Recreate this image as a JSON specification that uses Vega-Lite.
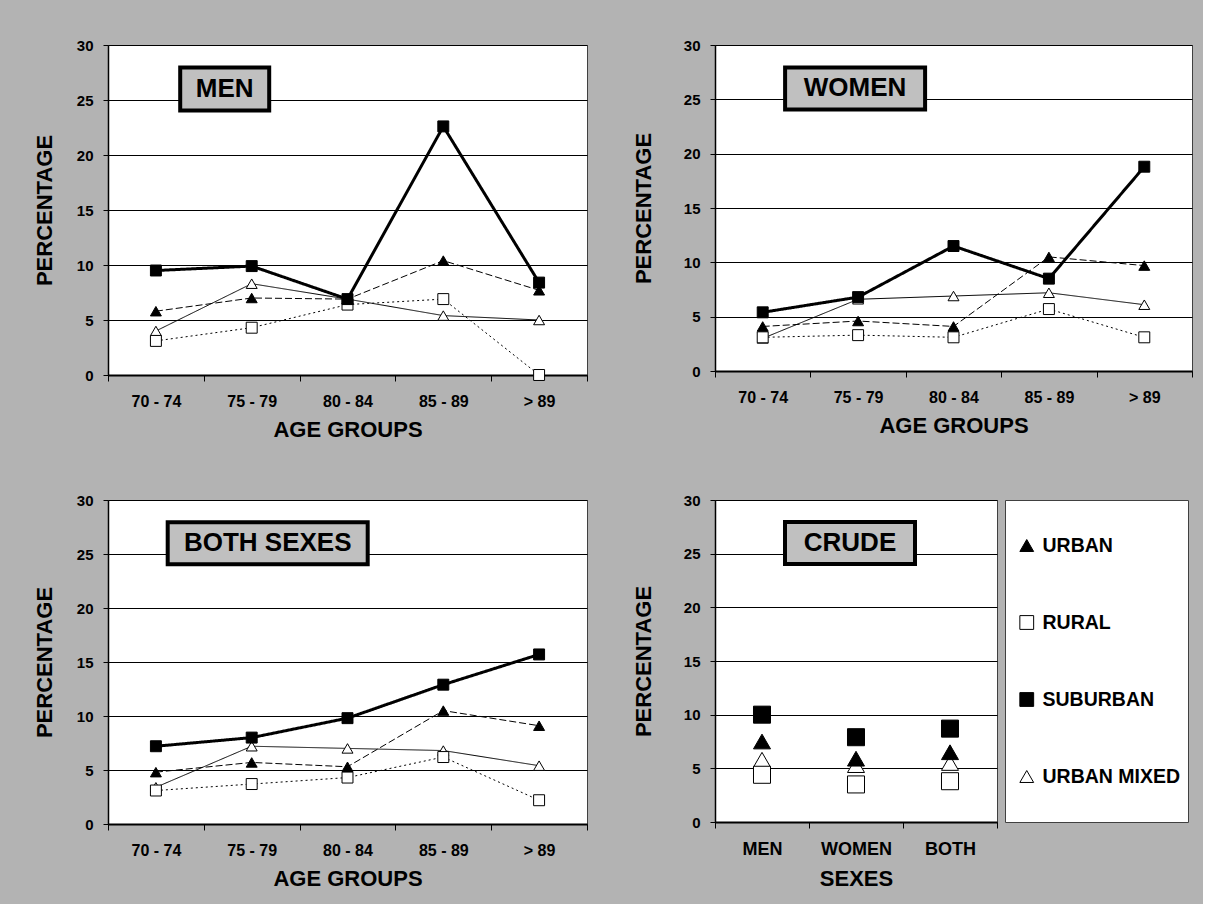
{
  "$schema": "https://vega.github.io/schema/vega-lite/v6.json",
  "background": "#b3b3b3",
  "padding": {"left": 32, "top": 37, "right": 10, "bottom": 14},
  "config": {
    "font": "Liberation Sans",
    "view": {"stroke": "#404040", "strokeWidth": 1, "fill": "white"},
    "axis": {"labelFont": "Liberation Sans", "titleFont": "Liberation Sans", "labelFontWeight": "bold", "titleFontWeight": "bold", "labelColor": "black", "titleColor": "black", "domainColor": "black", "tickColor": "black", "gridColor": "black", "gridOpacity": 1, "titleFontSize": 22},
    "axisY": {"grid": true, "gridWidth": 1, "tickSize": 5, "labelPadding": 10, "labelFontSize": 15, "domainWidth": 1.5, "titlePadding": 20},
    "axisX": {"grid": false, "tickBand": "extent", "tickSize": 6, "labelAngle": 0, "labelFontSize": 16, "labelPadding": 12, "titlePadding": 10, "domainWidth": 2}
  },
  "datasets": {
    "ages": [
      {"panel": "MEN", "series": "URBAN MIXED", "age": "70 - 74", "value": 4.0},
      {"panel": "MEN", "series": "URBAN MIXED", "age": "75 - 79", "value": 8.3},
      {"panel": "MEN", "series": "URBAN MIXED", "age": "80 - 84", "value": 6.9},
      {"panel": "MEN", "series": "URBAN MIXED", "age": "85 - 89", "value": 5.4},
      {"panel": "MEN", "series": "URBAN MIXED", "age": "> 89", "value": 5.0},
      {"panel": "MEN", "series": "RURAL", "age": "70 - 74", "value": 3.1},
      {"panel": "MEN", "series": "RURAL", "age": "75 - 79", "value": 4.3},
      {"panel": "MEN", "series": "RURAL", "age": "80 - 84", "value": 6.4},
      {"panel": "MEN", "series": "RURAL", "age": "85 - 89", "value": 6.9},
      {"panel": "MEN", "series": "RURAL", "age": "> 89", "value": 0.0},
      {"panel": "MEN", "series": "URBAN", "age": "70 - 74", "value": 5.8},
      {"panel": "MEN", "series": "URBAN", "age": "75 - 79", "value": 7.0},
      {"panel": "MEN", "series": "URBAN", "age": "80 - 84", "value": 6.9},
      {"panel": "MEN", "series": "URBAN", "age": "85 - 89", "value": 10.4},
      {"panel": "MEN", "series": "URBAN", "age": "> 89", "value": 7.7},
      {"panel": "MEN", "series": "SUBURBAN", "age": "70 - 74", "value": 9.5},
      {"panel": "MEN", "series": "SUBURBAN", "age": "75 - 79", "value": 9.9},
      {"panel": "MEN", "series": "SUBURBAN", "age": "80 - 84", "value": 6.9},
      {"panel": "MEN", "series": "SUBURBAN", "age": "85 - 89", "value": 22.6},
      {"panel": "MEN", "series": "SUBURBAN", "age": "> 89", "value": 8.4},
      {"panel": "WOMEN", "series": "URBAN MIXED", "age": "70 - 74", "value": 3.0},
      {"panel": "WOMEN", "series": "URBAN MIXED", "age": "75 - 79", "value": 6.6},
      {"panel": "WOMEN", "series": "URBAN MIXED", "age": "80 - 84", "value": 6.9},
      {"panel": "WOMEN", "series": "URBAN MIXED", "age": "85 - 89", "value": 7.2},
      {"panel": "WOMEN", "series": "URBAN MIXED", "age": "> 89", "value": 6.1},
      {"panel": "WOMEN", "series": "RURAL", "age": "70 - 74", "value": 3.1},
      {"panel": "WOMEN", "series": "RURAL", "age": "75 - 79", "value": 3.3},
      {"panel": "WOMEN", "series": "RURAL", "age": "80 - 84", "value": 3.1},
      {"panel": "WOMEN", "series": "RURAL", "age": "85 - 89", "value": 5.7},
      {"panel": "WOMEN", "series": "RURAL", "age": "> 89", "value": 3.1},
      {"panel": "WOMEN", "series": "URBAN", "age": "70 - 74", "value": 4.1},
      {"panel": "WOMEN", "series": "URBAN", "age": "75 - 79", "value": 4.6},
      {"panel": "WOMEN", "series": "URBAN", "age": "80 - 84", "value": 4.1},
      {"panel": "WOMEN", "series": "URBAN", "age": "85 - 89", "value": 10.5},
      {"panel": "WOMEN", "series": "URBAN", "age": "> 89", "value": 9.7},
      {"panel": "WOMEN", "series": "SUBURBAN", "age": "70 - 74", "value": 5.4},
      {"panel": "WOMEN", "series": "SUBURBAN", "age": "75 - 79", "value": 6.8},
      {"panel": "WOMEN", "series": "SUBURBAN", "age": "80 - 84", "value": 11.5},
      {"panel": "WOMEN", "series": "SUBURBAN", "age": "85 - 89", "value": 8.5},
      {"panel": "WOMEN", "series": "SUBURBAN", "age": "> 89", "value": 18.8},
      {"panel": "BOTH", "series": "URBAN MIXED", "age": "70 - 74", "value": 3.4},
      {"panel": "BOTH", "series": "URBAN MIXED", "age": "75 - 79", "value": 7.2},
      {"panel": "BOTH", "series": "URBAN MIXED", "age": "80 - 84", "value": 7.0},
      {"panel": "BOTH", "series": "URBAN MIXED", "age": "85 - 89", "value": 6.8},
      {"panel": "BOTH", "series": "URBAN MIXED", "age": "> 89", "value": 5.4},
      {"panel": "BOTH", "series": "RURAL", "age": "70 - 74", "value": 3.1},
      {"panel": "BOTH", "series": "RURAL", "age": "75 - 79", "value": 3.7},
      {"panel": "BOTH", "series": "RURAL", "age": "80 - 84", "value": 4.3},
      {"panel": "BOTH", "series": "RURAL", "age": "85 - 89", "value": 6.2},
      {"panel": "BOTH", "series": "RURAL", "age": "> 89", "value": 2.2},
      {"panel": "BOTH", "series": "URBAN", "age": "70 - 74", "value": 4.8},
      {"panel": "BOTH", "series": "URBAN", "age": "75 - 79", "value": 5.7},
      {"panel": "BOTH", "series": "URBAN", "age": "80 - 84", "value": 5.3},
      {"panel": "BOTH", "series": "URBAN", "age": "85 - 89", "value": 10.5},
      {"panel": "BOTH", "series": "URBAN", "age": "> 89", "value": 9.1},
      {"panel": "BOTH", "series": "SUBURBAN", "age": "70 - 74", "value": 7.2},
      {"panel": "BOTH", "series": "SUBURBAN", "age": "75 - 79", "value": 8.0},
      {"panel": "BOTH", "series": "SUBURBAN", "age": "80 - 84", "value": 9.8},
      {"panel": "BOTH", "series": "SUBURBAN", "age": "85 - 89", "value": 12.9},
      {"panel": "BOTH", "series": "SUBURBAN", "age": "> 89", "value": 15.7}
    ],
    "crude": [
      {"series": "URBAN MIXED", "sex": "MEN", "value": 5.8},
      {"series": "URBAN MIXED", "sex": "WOMEN", "value": 5.3},
      {"series": "URBAN MIXED", "sex": "BOTH", "value": 5.5},
      {"series": "RURAL", "sex": "MEN", "value": 4.4},
      {"series": "RURAL", "sex": "WOMEN", "value": 3.5},
      {"series": "RURAL", "sex": "BOTH", "value": 3.8},
      {"series": "URBAN", "sex": "MEN", "value": 7.5},
      {"series": "URBAN", "sex": "WOMEN", "value": 5.9},
      {"series": "URBAN", "sex": "BOTH", "value": 6.5},
      {"series": "SUBURBAN", "sex": "MEN", "value": 10.0},
      {"series": "SUBURBAN", "sex": "WOMEN", "value": 7.9},
      {"series": "SUBURBAN", "sex": "BOTH", "value": 8.7}
    ]
  },
  "resolve": {
    "scale": {"shape": "independent", "fill": "independent", "stroke": "independent", "strokeDash": "independent", "strokeWidth": "independent"},
    "legend": {"shape": "independent", "fill": "independent", "stroke": "independent", "strokeDash": "independent", "strokeWidth": "independent"}
  },
  "spacing": 51,
  "vconcat": [
    {
      "spacing": 43,
      "resolve": {
        "scale": {"shape": "independent", "fill": "independent", "stroke": "independent", "strokeDash": "independent", "strokeWidth": "independent"},
        "legend": {"shape": "independent", "fill": "independent", "stroke": "independent", "strokeDash": "independent", "strokeWidth": "independent"}
      },
      "hconcat": [
        {
          "width": 479, "height": 330,
          "layer": [
            {
              "data": {"name": "ages"},
              "transform": [{"filter": "datum.panel === 'MEN'"}],
              "mark": {"type": "line", "color": "black"},
              "encoding": {
                "x": {"field": "age", "type": "nominal", "sort": null, "scale": {"type": "band", "domain": ["70 - 74", "75 - 79", "80 - 84", "85 - 89", "> 89"], "paddingInner": 0, "paddingOuter": 0}, "axis": {"title": "AGE GROUPS"}},
                "y": {"field": "value", "type": "quantitative", "scale": {"domain": [0, 30], "nice": false}, "axis": {"title": "PERCENTAGE", "values": [0, 5, 10, 15, 20, 25, 30]}},
                "detail": {"field": "series"},
                "strokeDash": {"field": "series", "type": "nominal", "scale": {"domain": ["URBAN", "RURAL", "SUBURBAN", "URBAN MIXED"], "range": [[7, 3], [2, 3], [1, 0], [1, 0]]}, "legend": null},
                "strokeWidth": {"field": "series", "type": "nominal", "scale": {"type": "ordinal", "domain": ["URBAN", "RURAL", "SUBURBAN", "URBAN MIXED"], "range": [1, 1, 3, 1]}, "legend": null}
              }
            },
            {
              "data": {"name": "ages"},
              "transform": [{"filter": "datum.panel === 'MEN'"}],
              "mark": {"type": "point", "filled": true, "stroke": "black", "strokeWidth": 1, "size": 120, "opacity": 1},
              "encoding": {
                "x": {"field": "age", "type": "nominal", "sort": null},
                "y": {"field": "value", "type": "quantitative"},
                "shape": {"field": "series", "type": "nominal", "scale": {"domain": ["URBAN", "RURAL", "SUBURBAN", "URBAN MIXED"], "range": ["triangle-up", "square", "square", "triangle-up"]}, "legend": null},
                "fill": {"field": "series", "type": "nominal", "scale": {"domain": ["URBAN", "RURAL", "SUBURBAN", "URBAN MIXED"], "range": ["black", "white", "black", "white"]}, "legend": null}
              }
            },
            {
              "data": {"values": [{"label": "MEN"}]},
              "mark": {"type": "point", "shape": "M-1,-0.483H1V0.483H-1Z", "size": 7921, "filled": true, "fill": "#c0c0c0", "stroke": "black", "strokeWidth": 4, "opacity": 1, "xOffset": -27},
              "encoding": {"x": {"datum": "75 - 79", "type": "nominal"}, "y": {"datum": 26, "type": "quantitative"}}
            },
            {
              "data": {"values": [{"label": "MEN"}]},
              "mark": {"type": "text", "fontSize": 26, "fontWeight": "bold", "color": "black", "baseline": "middle", "align": "center", "xOffset": -27},
              "encoding": {"x": {"datum": "75 - 79", "type": "nominal"}, "y": {"datum": 26, "type": "quantitative"}, "text": {"field": "label"}}
            }
          ]
        },
        {
          "width": 477, "height": 326,
          "layer": [
            {
              "data": {"name": "ages"},
              "transform": [{"filter": "datum.panel === 'WOMEN'"}],
              "mark": {"type": "line", "color": "black"},
              "encoding": {
                "x": {"field": "age", "type": "nominal", "sort": null, "scale": {"type": "band", "domain": ["70 - 74", "75 - 79", "80 - 84", "85 - 89", "> 89"], "paddingInner": 0, "paddingOuter": 0}, "axis": {"title": "AGE GROUPS"}},
                "y": {"field": "value", "type": "quantitative", "scale": {"domain": [0, 30], "nice": false}, "axis": {"title": "PERCENTAGE", "values": [0, 5, 10, 15, 20, 25, 30], "titlePadding": 28}},
                "detail": {"field": "series"},
                "strokeDash": {"field": "series", "type": "nominal", "scale": {"domain": ["URBAN", "RURAL", "SUBURBAN", "URBAN MIXED"], "range": [[7, 3], [2, 3], [1, 0], [1, 0]]}, "legend": null},
                "strokeWidth": {"field": "series", "type": "nominal", "scale": {"type": "ordinal", "domain": ["URBAN", "RURAL", "SUBURBAN", "URBAN MIXED"], "range": [1, 1, 3, 1]}, "legend": null}
              }
            },
            {
              "data": {"name": "ages"},
              "transform": [{"filter": "datum.panel === 'WOMEN'"}],
              "mark": {"type": "point", "filled": true, "stroke": "black", "strokeWidth": 1, "size": 120, "opacity": 1},
              "encoding": {
                "x": {"field": "age", "type": "nominal", "sort": null},
                "y": {"field": "value", "type": "quantitative"},
                "shape": {"field": "series", "type": "nominal", "scale": {"domain": ["URBAN", "RURAL", "SUBURBAN", "URBAN MIXED"], "range": ["triangle-up", "square", "square", "triangle-up"]}, "legend": null},
                "fill": {"field": "series", "type": "nominal", "scale": {"domain": ["URBAN", "RURAL", "SUBURBAN", "URBAN MIXED"], "range": ["black", "white", "black", "white"]}, "legend": null}
              }
            },
            {
              "data": {"values": [{"label": "WOMEN"}]},
              "mark": {"type": "point", "shape": "M-1,-0.3H1V0.3H-1Z", "size": 19600, "filled": true, "fill": "#c0c0c0", "stroke": "black", "strokeWidth": 4, "opacity": 1, "xOffset": -3},
              "encoding": {"x": {"datum": "75 - 79", "type": "nominal"}, "y": {"datum": 26, "type": "quantitative"}}
            },
            {
              "data": {"values": [{"label": "WOMEN"}]},
              "mark": {"type": "text", "fontSize": 26, "fontWeight": "bold", "color": "black", "baseline": "middle", "align": "center", "xOffset": -3},
              "encoding": {"x": {"datum": "75 - 79", "type": "nominal"}, "y": {"datum": 26, "type": "quantitative"}, "text": {"field": "label"}}
            }
          ]
        }
      ]
    },
    {
      "spacing": 43,
      "resolve": {
        "scale": {"shape": "independent", "fill": "independent", "stroke": "independent", "strokeDash": "independent", "strokeWidth": "independent"},
        "legend": {"shape": "independent", "fill": "independent", "stroke": "independent", "strokeDash": "independent", "strokeWidth": "independent"}
      },
      "hconcat": [
        {
          "width": 479, "height": 324,
          "layer": [
            {
              "data": {"name": "ages"},
              "transform": [{"filter": "datum.panel === 'BOTH'"}],
              "mark": {"type": "line", "color": "black"},
              "encoding": {
                "x": {"field": "age", "type": "nominal", "sort": null, "scale": {"type": "band", "domain": ["70 - 74", "75 - 79", "80 - 84", "85 - 89", "> 89"], "paddingInner": 0, "paddingOuter": 0}, "axis": {"title": "AGE GROUPS"}},
                "y": {"field": "value", "type": "quantitative", "scale": {"domain": [0, 30], "nice": false}, "axis": {"title": "PERCENTAGE", "values": [0, 5, 10, 15, 20, 25, 30]}},
                "detail": {"field": "series"},
                "strokeDash": {"field": "series", "type": "nominal", "scale": {"domain": ["URBAN", "RURAL", "SUBURBAN", "URBAN MIXED"], "range": [[7, 3], [2, 3], [1, 0], [1, 0]]}, "legend": null},
                "strokeWidth": {"field": "series", "type": "nominal", "scale": {"type": "ordinal", "domain": ["URBAN", "RURAL", "SUBURBAN", "URBAN MIXED"], "range": [1, 1, 3, 1]}, "legend": null}
              }
            },
            {
              "data": {"name": "ages"},
              "transform": [{"filter": "datum.panel === 'BOTH'"}],
              "mark": {"type": "point", "filled": true, "stroke": "black", "strokeWidth": 1, "size": 120, "opacity": 1},
              "encoding": {
                "x": {"field": "age", "type": "nominal", "sort": null},
                "y": {"field": "value", "type": "quantitative"},
                "shape": {"field": "series", "type": "nominal", "scale": {"domain": ["URBAN", "RURAL", "SUBURBAN", "URBAN MIXED"], "range": ["triangle-up", "square", "square", "triangle-up"]}, "legend": null},
                "fill": {"field": "series", "type": "nominal", "scale": {"domain": ["URBAN", "RURAL", "SUBURBAN", "URBAN MIXED"], "range": ["black", "white", "black", "white"]}, "legend": null}
              }
            },
            {
              "data": {"values": [{"label": "BOTH SEXES"}]},
              "mark": {"type": "point", "shape": "M-1,-0.21H1V0.21H-1Z", "size": 40000, "filled": true, "fill": "#c0c0c0", "stroke": "black", "strokeWidth": 4, "opacity": 1, "xOffset": 16},
              "encoding": {"x": {"datum": "75 - 79", "type": "nominal"}, "y": {"datum": 26, "type": "quantitative"}}
            },
            {
              "data": {"values": [{"label": "BOTH SEXES"}]},
              "mark": {"type": "text", "fontSize": 26, "fontWeight": "bold", "color": "black", "baseline": "middle", "align": "center", "xOffset": 16},
              "encoding": {"x": {"datum": "75 - 79", "type": "nominal"}, "y": {"datum": 26, "type": "quantitative"}, "text": {"field": "label"}}
            }
          ]
        },
        {
          "width": 282, "height": 322,
          "layer": [
            {
              "data": {"name": "crude"},
              "mark": {"type": "point", "filled": true, "strokeWidth": 1, "size": 290, "opacity": 1},
              "encoding": {
                "x": {"field": "sex", "type": "nominal", "sort": null, "scale": {"type": "band", "domain": ["MEN", "WOMEN", "BOTH"], "paddingInner": 0, "paddingOuter": 0}, "axis": {"title": "SEXES", "labelFontSize": 18}},
                "y": {"field": "value", "type": "quantitative", "scale": {"domain": [0, 30], "nice": false}, "axis": {"title": "PERCENTAGE", "values": [0, 5, 10, 15, 20, 25, 30], "titlePadding": 28}},
                "shape": {"field": "series", "type": "nominal", "scale": {"domain": ["URBAN", "RURAL", "SUBURBAN", "URBAN MIXED"], "range": ["triangle-up", "square", "square", "triangle-up"]},
                  "legend": {"title": null, "orient": "right", "offset": 8, "padding": 7, "clipHeight": 77, "rowPadding": 0, "symbolOffset": 5, "labelOffset": 6, "labelFontSize": 19.5, "labelFont": "Liberation Sans", "labelFontWeight": "bold", "labelColor": "black", "labelLimit": 300, "symbolSize": 190, "symbolStrokeWidth": 1, "fillColor": "white", "strokeColor": "#404040", "cornerRadius": 0}},
                "fill": {"field": "series", "type": "nominal", "scale": {"domain": ["URBAN", "RURAL", "SUBURBAN", "URBAN MIXED"], "range": ["black", "white", "black", "white"]},
                  "legend": {"title": null, "orient": "right", "offset": 8, "padding": 7, "clipHeight": 77, "rowPadding": 0, "symbolOffset": 5, "labelOffset": 6, "labelFontSize": 19.5, "labelFont": "Liberation Sans", "labelFontWeight": "bold", "labelColor": "black", "labelLimit": 300, "symbolSize": 190, "symbolStrokeWidth": 1, "fillColor": "white", "strokeColor": "#404040", "cornerRadius": 0}},
                "stroke": {"field": "series", "type": "nominal", "scale": {"domain": ["URBAN", "RURAL", "SUBURBAN", "URBAN MIXED"], "range": ["black", "black", "black", "black"]},
                  "legend": {"title": null, "orient": "right", "offset": 8, "padding": 7, "clipHeight": 77, "rowPadding": 0, "symbolOffset": 5, "labelOffset": 6, "labelFontSize": 19.5, "labelFont": "Liberation Sans", "labelFontWeight": "bold", "labelColor": "black", "labelLimit": 300, "symbolSize": 190, "symbolStrokeWidth": 1, "fillColor": "white", "strokeColor": "#404040", "cornerRadius": 0}}
              }
            },
            {
              "data": {"values": [{"label": "CRUDE"}]},
              "mark": {"type": "point", "shape": "M-1,-0.323H1V0.323H-1Z", "size": 16900, "filled": true, "fill": "#c0c0c0", "stroke": "black", "strokeWidth": 4, "opacity": 1, "xOffset": -6},
              "encoding": {"x": {"datum": "WOMEN", "type": "nominal"}, "y": {"datum": 26, "type": "quantitative"}}
            },
            {
              "data": {"values": [{"label": "CRUDE"}]},
              "mark": {"type": "text", "fontSize": 26, "fontWeight": "bold", "color": "black", "baseline": "middle", "align": "center", "xOffset": -6},
              "encoding": {"x": {"datum": "WOMEN", "type": "nominal"}, "y": {"datum": 26, "type": "quantitative"}, "text": {"field": "label"}}
            }
          ]
        }
      ]
    }
  ]
}
